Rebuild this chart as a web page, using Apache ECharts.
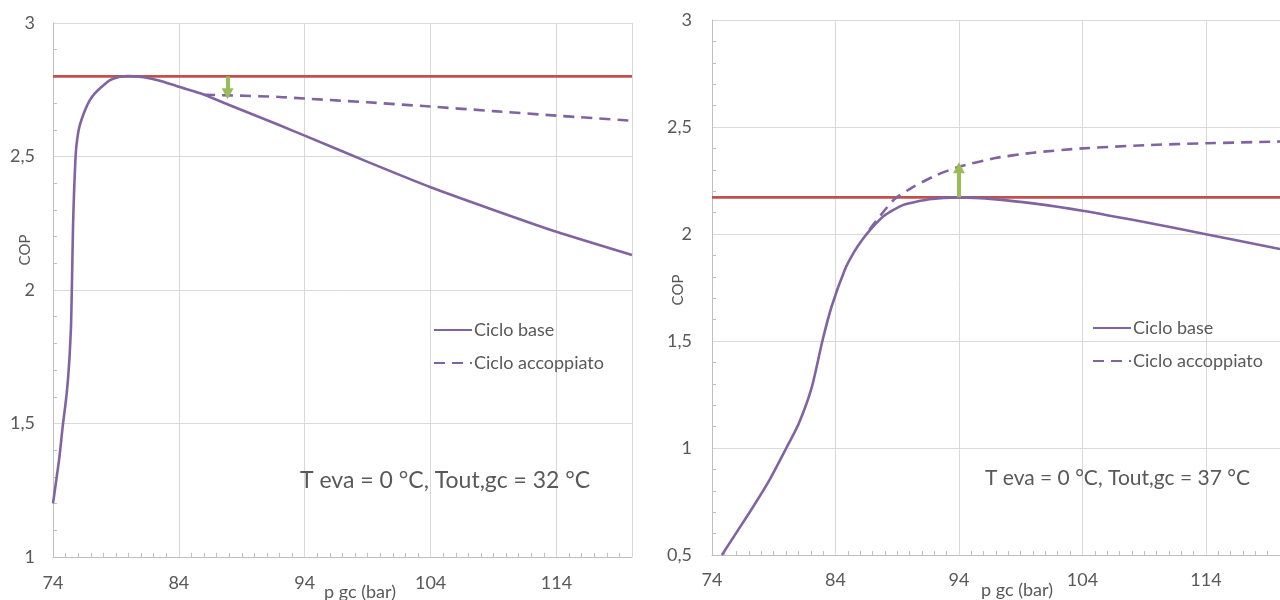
<!DOCTYPE html>
<html>
<head>
<meta charset="utf-8">
<script src="https://cdn.jsdelivr.net/npm/echarts@6/dist/echarts.min.js"></script>
<style>
html,body{margin:0;padding:0;background:#fff;}
#chart{width:1280px;height:600px;}
</style>
</head>
<body>
<div id="chart"></div>
<script>
// ---- Data ----
// Left chart: T eva = 0 °C, Tout,gc = 32 °C
var baseLeft = [
  [74.0,1.201],[74.48,1.363],[74.77,1.488],[75.09,1.613],[75.30,1.738],[75.43,1.863],
  [75.49,1.988],[75.54,2.112],[75.59,2.237],[75.67,2.362],[75.78,2.487],[75.88,2.549],
  [76.1,2.612],[76.55,2.674],[76.94,2.712],[77.34,2.737],[77.87,2.761],[78.53,2.786],
  [79.33,2.799],[80.0,2.801],[81.2,2.797],[82.5,2.784],[84,2.761],[85.7,2.737],
  [88,2.693],[92.06,2.616],[94,2.578],[99,2.480],[104,2.385],[109,2.300],[114,2.218],[120,2.131]
];
var coupledLeft = [
  [86.0,2.731],[88,2.729],[92,2.723],[94,2.717],[99,2.703],[104,2.687],[109,2.670],[114,2.653],[120,2.634]
];
var maxLeft = [[74,2.8],[120,2.8]];
var arrowLeft = [[87.87,2.8],[87.87,2.735]];

// Right chart: T eva = 0 °C, Tout,gc = 37 °C
var baseRight = [
  [74.8,0.5],[77.05,0.70],[78.65,0.85],[80.02,1.0],[81.03,1.115],[82.09,1.286],[82.94,1.5],
  [83.68,1.66],[84.75,1.832],[85.5,1.915],[86.2,1.975],[86.9,2.025],[87.93,2.085],[89.5,2.136],
  [91.6,2.162],[94,2.171],[97,2.162],[100,2.143],[104,2.109],[109,2.056],[114,1.999],[120,1.93]
];
var coupledRight = [
  [86.74,2.02],[88.7,2.159],[90.3,2.22],[92.2,2.276],[94,2.314],[96.95,2.355],[100,2.38],
  [104,2.40],[109,2.415],[114,2.424],[120,2.432]
];
var maxRight = [[74,2.171],[120,2.171]];
var arrowRight = [[94,2.171],[94,2.31]];

var seriesNames = ['Ciclo base','Ciclo accoppiato'];
var xTicks = {min:74, max:120, interval:10};
var yLeft = {min:1, max:3, interval:0.5};
var yRight = {min:0.5, max:3, interval:0.5};
var noteLeft = 'T eva = 0 °C, Tout,gc = 32 °C';
var noteRight = 'T eva = 0 °C, Tout,gc = 37 °C';
var xTitle = 'p gc (bar)';
var yTitle = 'COP';

// ---- Styles ----
var FONT = 'Lato';
var TXT = '#595959';
var PURPLE = '#8064A2';
var RED = '#C0504D';
var GREEN = '#9BBB59';

function xAxisOpt(gi, margin){
  return {
    type:'value', gridIndex:gi, min:xTicks.min, max:xTicks.max, interval:xTicks.interval,
    axisLine:{show:true, lineStyle:{color:'#BFBFBF', width:1}},
    axisTick:{show:false, inside:true, length:4},
    minorTick:{show:true, splitNumber:10, length:4, lineStyle:{color:'#BFBFBF'}},
    splitLine:{show:true, lineStyle:{color:'#D9D9D9', width:1}},
    axisLabel:{show:true, showMaxLabel:false, margin:margin, color:TXT, fontFamily:FONT, fontSize:18}
  };
}
function yAxisOpt(gi, r, margin){
  return {
    type:'value', gridIndex:gi, min:r.min, max:r.max, interval:r.interval,
    axisLine:{show:true, lineStyle:{color:'#BFBFBF', width:1}},
    axisTick:{show:false, inside:true, length:4},
    minorTick:{show:true, splitNumber:5, length:4, lineStyle:{color:'#BFBFBF'}},
    splitLine:{show:true, lineStyle:{color:'#D9D9D9', width:1}},
    axisLabel:{margin:margin, color:TXT, fontFamily:FONT, fontSize:18,
      formatter:function(v){ return String(v).replace('.', ','); }}
  };
}
function curve(name, data, gi, dashed){
  return {
    type:'line', name:name, data:data, xAxisIndex:gi, yAxisIndex:gi,
    showSymbol:false, symbol:'none', smooth:0.2,
    lineStyle:{color:PURPLE, width:2.6, type: dashed ? [11,7] : 'solid'},
    itemStyle:{color:PURPLE}, silent:true, z:3
  };
}
function maxLine(data, arrow, gi){
  return {
    type:'line', name:'max', data:data, xAxisIndex:gi, yAxisIndex:gi,
    showSymbol:false, symbol:'none', silent:true, z:2,
    lineStyle:{color:RED, width:2.6},
    markLine:{
      silent:true, symbol:['none','triangle'], symbolSize:[12,11], animation:false,
      label:{show:false},
      lineStyle:{color:GREEN, width:4, type:'solid'},
      data:[[{coord:arrow[0]},{coord:arrow[1]}]]
    }
  };
}
function legendOpt(left, top){
  return {data:seriesNames, orient:'vertical', left:left, top:top, itemWidth:38, itemHeight:14, itemGap:13,
    selectedMode:false, itemStyle:{opacity:0, borderWidth:0},
    textStyle:{color:TXT, fontFamily:FONT, fontSize:18, lineHeight:20, padding:[0,0,0,-3]}};
}

var chart = echarts.init(document.getElementById('chart'));
chart.setOption({
  animation:false,
  backgroundColor:'#ffffff',
  grid:[
    {left:53, top:23, width:579, height:534},
    {left:712, top:20, width:578, height:535}
  ],
  xAxis:[xAxisOpt(0,17), xAxisOpt(1,16)],
  yAxis:[yAxisOpt(0,yLeft,18), yAxisOpt(1,yRight,20)],
  legend:[legendOpt(428, 315), legendOpt(1087, 313)],
  graphic:[
    {type:'text', z:100, x:25, y:250, rotation:Math.PI/2, style:{text:yTitle, fill:TXT, font:'15px Lato', textAlign:'center', textVerticalAlign:'middle'}},
    {type:'text', z:100, x:678, y:290, rotation:Math.PI/2, style:{text:yTitle, fill:TXT, font:'15px Lato', textAlign:'center', textVerticalAlign:'middle'}},
    {type:'text', z:100, x:360, y:592, style:{text:xTitle, fill:TXT, font:'18px Lato', textAlign:'center', textVerticalAlign:'middle'}},
    {type:'text', z:100, x:1017, y:590, style:{text:xTitle, fill:TXT, font:'18px Lato', textAlign:'center', textVerticalAlign:'middle'}},
    {type:'text', z:100, x:300, y:481, style:{text:noteLeft, fill:TXT, font:'23px Lato', textAlign:'left', textVerticalAlign:'middle'}},
    {type:'text', z:100, x:985, y:478, style:{text:noteRight, fill:TXT, font:'21px Lato', textAlign:'left', textVerticalAlign:'middle'}}
  ],
  series:[
    maxLine(maxLeft, arrowLeft, 0),
    curve(seriesNames[0], baseLeft, 0, false),
    curve(seriesNames[1], coupledLeft, 0, true),
    maxLine(maxRight, arrowRight, 1),
    curve(seriesNames[0], baseRight, 1, false),
    curve(seriesNames[1], coupledRight, 1, true)
  ]
});
</script>
</body>
</html>
